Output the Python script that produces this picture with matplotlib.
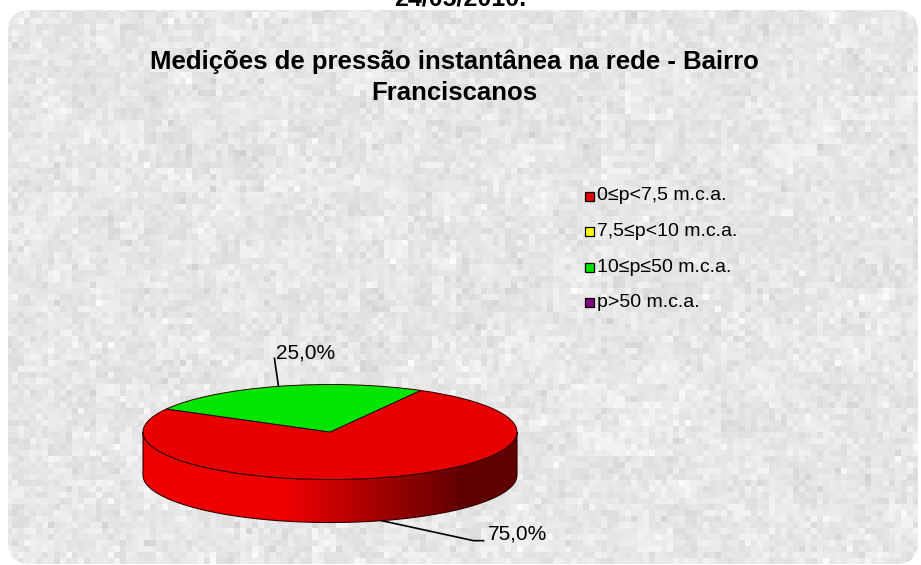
import numpy as np
import matplotlib.pyplot as plt
from matplotlib.patches import Wedge, Polygon, Rectangle, FancyBboxPatch
from matplotlib.transforms import Affine2D
from matplotlib.colors import to_rgb

plt.rcParams['font.family'] = ['Liberation Sans', 'DejaVu Sans']

# dados do grafico
categorias = ['0≤p<7,5 m.c.a.', '7,5≤p<10 m.c.a.', '10≤p≤50 m.c.a.', 'p>50 m.c.a.']
valores = [75.0, 0.0, 25.0, 0.0]
cores = ['#e80000', '#ffff00', '#00e600', '#800080']
titulo_l1 = 'Medições de pressão instantânea na rede - Bairro'
titulo_l2 = 'Franciscanos'
data_topo = '24/05/2010.'

W, H = 921, 565
fig = plt.figure(figsize=(W / 100, H / 100), dpi=100)
ax = fig.add_axes([0, 0, 1, 1])

# fundo tipo granito dentro da caixa arredondada
rng = np.random.default_rng(7)
bloco = 6
ny, nx = H // bloco + 2, W // bloco + 2
grosso = rng.normal(0, 0.012, (ny // 4 + 2, nx // 4 + 2))
grosso = np.kron(grosso, np.ones((4, 4)))[:ny, :nx]
tex = np.clip(0.905 + grosso + rng.normal(0, 0.022, (ny, nx)), 0.80, 0.985)
caixa = FancyBboxPatch((8, 10), 910, 554, boxstyle='round,pad=0,rounding_size=22',
                       fc='none', ec='none')
ax.add_patch(caixa)
im = ax.imshow(tex, cmap='gray', vmin=0, vmax=1, interpolation='nearest',
               extent=(0, nx * bloco, ny * bloco, 0), aspect='auto')
im.set_clip_path(caixa)

# pizza 3D
cx, cy, rx, ry, prof = 330, 432, 187, 47.5, 43
inicio = 61
total = sum(valores)
fatias = []
a = inicio
for v in valores:
    span = 360 * v / total
    fatias.append((a - span, a))
    a -= span


def frente(t1, t2):
    partes = []
    for k in range(-2, 2):
        lo, hi = max(t1, 180 + 360 * k), min(t2, 360 + 360 * k)
        if hi > lo:
            partes.append((lo, hi))
    return partes


def sombra(x):
    return np.interp(x, [285, 460], [1.03, 0.42])


borda = '#300000'
for (t1, t2), v, cor in zip(fatias, valores, cores):
    if v <= 0:
        continue
    for lo, hi in frente(t1, t2):
        t = np.radians(np.linspace(lo, hi, 100))
        xs = cx + rx * np.cos(t)
        ys = cy - ry * np.sin(t)
        pts = np.vstack([np.column_stack([xs, ys]),
                         np.column_stack([xs[::-1], ys[::-1] + prof])])
        lado = Polygon(pts, closed=True, fc='none', ec=borda, lw=0.8, zorder=3)
        ax.add_patch(lado)
        gx = np.linspace(cx - rx, cx + rx, 400)
        grad = np.clip(np.array(to_rgb(cor))[None, :] * sombra(gx)[:, None], 0, 1)
        gi = ax.imshow(grad[None, :, :], extent=(cx - rx, cx + rx, cy + ry + prof + 2, cy - 2),
                       aspect='auto', interpolation='bilinear', zorder=2)
        gi.set_clip_path(lado)

topo = Affine2D().scale(rx, -ry).translate(cx, cy) + ax.transData
for (t1, t2), v, cor in zip(fatias, valores, cores):
    if v <= 0:
        continue
    w = Wedge((0, 0), 1, t1, t2, fc=cor, ec=borda, lw=0.7, zorder=4)
    w.set_transform(topo)
    ax.add_patch(w)

# rotulos de porcentagem
for (t1, t2), v in zip(fatias, valores):
    if v <= 0:
        continue
    m = np.radians((t1 + t2) / 2)
    px, py = cx + rx * np.cos(m), cy - ry * np.sin(m)
    rot = f'{100 * v / total:.1f}%'.replace('.', ',')
    if np.sin(m) > 0:
        ax.plot([px, px - 4, px - 4], [py, py - 28, py - 28], color='black', lw=1.2, zorder=5)
        ax.text(px - 2, py - 28, rot, fontsize=15, ha='left', va='baseline', zorder=5)
    else:
        py += prof
        ax.plot([px, px + 92, px + 102], [py, py + 20, py + 20], color='black', lw=1.2, zorder=5)
        ax.text(px + 106, py + 19, rot, fontsize=15, ha='left', va='baseline', zorder=5)

# legenda
for i, (cat, cor) in enumerate(zip(categorias, cores)):
    y = 196 + i * 35.5
    ax.add_patch(Rectangle((585, y - 4.5), 9, 9, fc=cor, ec='black', lw=0.9, zorder=5))
    ax.text(597, y, cat, fontsize=14, va='center', ha='left', zorder=5)

# titulos
ax.text(454, 69, titulo_l1, fontsize=18.5, weight='bold', ha='center', va='baseline')
ax.text(454, 100, titulo_l2, fontsize=18.5, weight='bold', ha='center', va='baseline')
ax.text(460, 6, data_topo, fontsize=18, weight='bold', ha='center', va='baseline')

ax.set_xlim(0, W)
ax.set_ylim(H, 0)
ax.axis('off')
fig.savefig('out.png', dpi=100)
